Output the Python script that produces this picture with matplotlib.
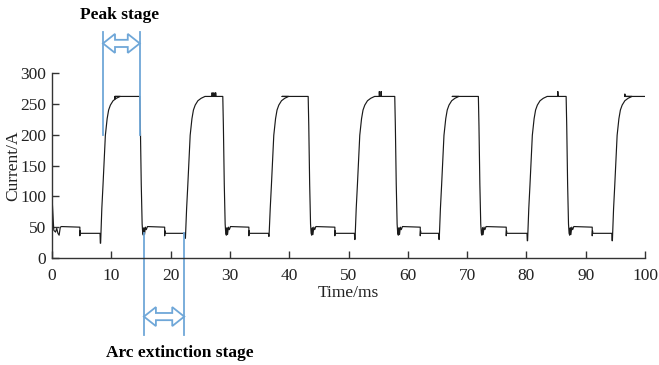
import matplotlib
matplotlib.use("Agg")
import matplotlib.pyplot as plt
import numpy as np
from matplotlib.patches import Polygon
from matplotlib.transforms import IdentityTransform

plt.rcParams['font.family'] = ['Liberation Serif', 'DejaVu Serif']

# Data (time in ms, current in A)
RISE_T = [8.2, 22.5, 36.6, 51.1, 65.3, 80.2, 94.5]
FALL_T = [14.8, 28.8, 43.2, 57.8, 71.9, 86.7]
STEP_T = [4.7, 19.0, 33.2, 47.7, 62.1, 76.6, 91.1]
DIP_I = [24, 32, 35, 30, 30, 28, 28]

# shape of one rising edge (offset from rise time, current)
RISE_DT = [0.0, 0.2, 0.4, 0.6, 0.8, 1.1, 1.35, 1.65, 2.1, 2.65, 3.3]
RISE_I = [40, 80, 118, 160, 199, 226, 240, 248, 255, 259, 262]
# shape of falling edge and the wiggle after it
FALL_DT = [0.0, 0.1, 0.25, 0.4, 0.5, 0.6, 0.7, 0.8, 0.95, 1.1, 1.3]
FALL_I = [262, 215, 120, 55, 40, 37, 49, 38, 50, 46, 51]
PLATEAU = 262
HIGH_LOW = 50
LOW_LOW = 40

# small spikes on top of the plateaus (time, current)
SPIKE_T = [10.6, 27.0, 27.3, 27.6, 38.8, 55.2, 55.5, 67.5, 85.3, 96.6]
SPIKE_I = [258, 268, 268, 268, 262, 270, 270, 262, 270, 266]

# start of the trace
START_T = [0.0, 0.3, 0.6, 0.8, 1.0, 1.2, 1.4, 1.6]
START_I = [99, 45, 42, 48, 40, 37, 50, 51]

PEAK_X = [8.6, 14.8]
ARC_X = [15.5, 22.3]


def build_trace():
    t = list(START_T)
    i = list(START_I)
    for k, r in enumerate(RISE_T):
        s = STEP_T[k]
        # end of 50 A level, step to 40 A
        t += [s, s, s + 0.05, s + 0.1]
        i += [HIGH_LOW, 36, 44, LOW_LOW]
        # 40 A until the rise, dip just before
        t += [r - 0.1, r - 0.05]
        i += [LOW_LOW, DIP_I[k]]
        for dt, v in zip(RISE_DT, RISE_I):
            t.append(r + dt)
            i.append(max(v, DIP_I[k]) if dt > 0 else DIP_I[k])
        f = FALL_T[k] if k < len(FALL_T) else 100.0
        for st, si in zip(SPIKE_T, SPIKE_I):
            if r < st < f:
                t += [st, st, st + 0.02]
                i += [PLATEAU, si, PLATEAU]
        if k < len(FALL_T):
            for dt, v in zip(FALL_DT, FALL_I):
                t.append(f + dt)
                i.append(v)
        else:
            t.append(100.0)
            i.append(PLATEAU)
    return np.array(t), np.array(i)


def hollow_darrow(fig, ax, x0, x1, y, hl=12, hh=9.5, sh=3.6, color='#6fa7d8'):
    (xl, yc), (xr, _) = ax.transData.transform([(x0, y), (x1, y)])
    pts = [(xl, yc), (xl + hl, yc + hh), (xl + hl, yc + sh), (xr - hl, yc + sh),
           (xr - hl, yc + hh), (xr, yc), (xr - hl, yc - hh), (xr - hl, yc - sh),
           (xl + hl, yc - sh), (xl + hl, yc - hh)]
    poly = Polygon(pts, closed=True, fc='white', ec=color, lw=1.3,
                   transform=IdentityTransform())
    fig.add_artist(poly)


fig = plt.figure(figsize=(6.59, 3.65), dpi=100)
ax = fig.add_axes([52 / 659, 1 - 258 / 365, 593 / 659, 185 / 365])

t, cur = build_trace()
ax.plot(t, cur, color='#1a1a1a', lw=0.85)

ax.set_xlim(0, 100)
ax.set_ylim(0, 300)
ax.set_xticks(np.arange(0, 101, 10))
ax.set_yticks(np.arange(0, 301, 50))
ax.spines['top'].set_visible(False)
ax.spines['right'].set_visible(False)
for sp in ['left', 'bottom']:
    ax.spines[sp].set_color('#333333')
    ax.spines[sp].set_linewidth(1.0)
ax.tick_params(direction='in', length=5, width=1, colors='#333333',
               labelsize=12.5, labelcolor='#222222')
ax.tick_params(axis='x', pad=7)
ax.tick_params(axis='y', pad=4)
ax.set_xlabel('Time/ms', fontsize=12.5, color='#222222')
ax.xaxis.set_label_coords(0.5, -27 / 185)
ax.set_ylabel('Current/A', fontsize=12.5, color='#222222')
ax.yaxis.set_label_coords(-31 / 593, 0.5)

blue = '#6fa7d8'
for x in PEAK_X:
    ax.plot([x, x], [200, 366], color=blue, lw=1.3, clip_on=False)
for x in ARC_X:
    ax.plot([x, x], [40, -125], color=blue, lw=1.3, clip_on=False)

fig.canvas.draw()
hollow_darrow(fig, ax, PEAK_X[0], PEAK_X[1], 348)
hollow_darrow(fig, ax, ARC_X[0], ARC_X[1], -95)

fig.text(120 / 659, 1 - 15 / 365, 'Peak stage', ha='center', va='center',
         fontsize=12.5, fontweight='bold')
fig.text(180 / 659, 1 - 353 / 365, 'Arc extinction stage', ha='center', va='center',
         fontsize=12.5, fontweight='bold')

fig.savefig('out.png', dpi=100)
